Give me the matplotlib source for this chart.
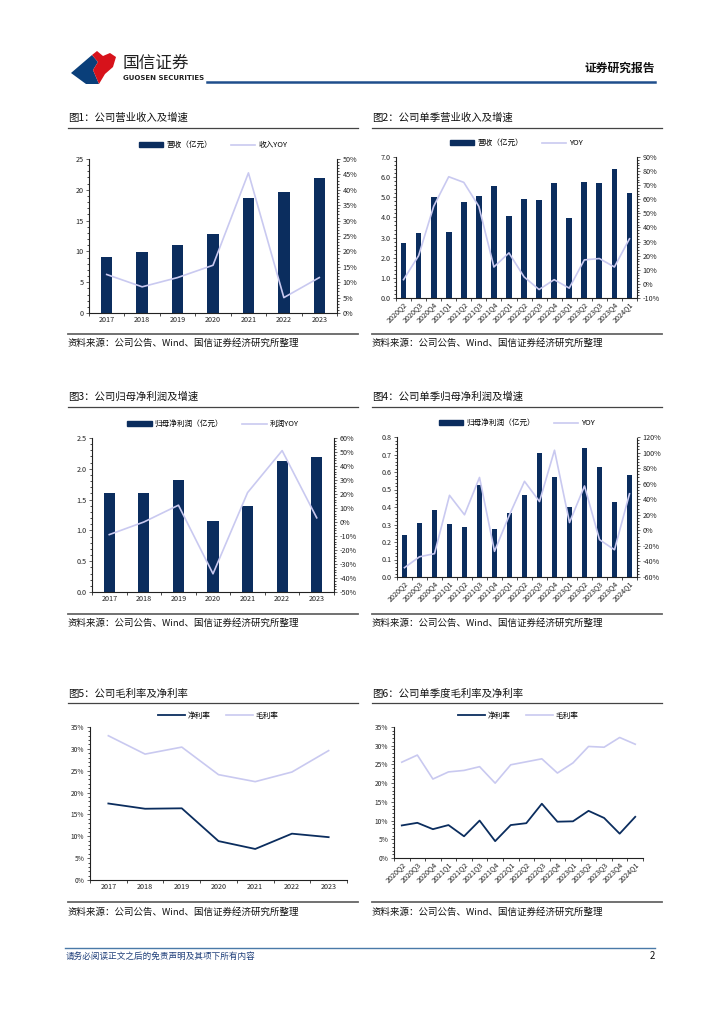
import numpy as np
import matplotlib
matplotlib.use('Agg')
import matplotlib.pyplot as plt
from matplotlib.patches import Patch, Polygon
from matplotlib.lines import Line2D
from matplotlib.ticker import MultipleLocator, FuncFormatter

plt.rcParams['font.family'] = ['Noto Sans CJK SC', 'DejaVu Sans']

W, H = 724, 1024
NAVY = '#0b2d5e'
LAV = '#c9c9f0'

years = ['2017', '2018', '2019', '2020', '2021', '2022', '2023']
quarters = ['2020Q2', '2020Q3', '2020Q4', '2021Q1', '2021Q2', '2021Q3', '2021Q4', '2022Q1',
            '2022Q2', '2022Q3', '2022Q4', '2023Q1', '2023Q2', '2023Q3', '2023Q4', '2024Q1']

rev_year = [9.1, 9.9, 11.0, 12.8, 18.6, 19.6, 21.9]
rev_year_yoy = [12.5, 8.5, 11.5, 15.5, 45.5, 5.0, 11.5]

rev_q = [2.75, 3.25, 5.0, 3.3, 4.75, 5.05, 5.57, 4.07, 4.92, 4.88, 5.73, 3.97, 5.78, 5.73, 6.38, 5.2]
rev_q_yoy = [3, 20, 55, 76, 72, 55, 12, 22, 5, -4, 3, -3, 17, 18, 12, 32]

np_year = [1.6, 1.6, 1.82, 1.15, 1.4, 2.12, 2.19]
np_year_yoy = [-9, 0, 12, -37, 21, 51, 3]

np_q = [0.24, 0.31, 0.385, 0.305, 0.285, 0.525, 0.275, 0.365, 0.47, 0.71, 0.57, 0.40,
        0.735, 0.63, 0.43, 0.585]
np_q_yoy = [-48, -34, -30, 45, 20, 68, -27, 20, 63, 37, 103, 10, 57, -12, -25, 47]

net_margin_year = [17.5, 16.3, 16.4, 8.9, 7.1, 10.6, 9.8]
gross_margin_year = [33.0, 28.8, 30.4, 24.1, 22.5, 24.7, 29.6]

net_margin_q = [8.7, 9.4, 7.7, 8.8, 5.8, 10.0, 4.5, 8.8, 9.3, 14.5, 9.7, 9.8, 12.6, 10.7, 6.5, 11.0]
gross_margin_q = [25.6, 27.5, 21.1, 23.0, 23.4, 24.4, 20.0, 24.9, 25.7, 26.5, 22.7, 25.4,
                  29.8, 29.6, 32.2, 30.4]

source = '资料来源：公司公告、Wind、国信证券经济研究所整理'

fig = plt.figure(figsize=(W / 100, H / 100), dpi=100)
fig.patch.set_facecolor('white')


def fx(x):
    return x / W


def fy(y):
    return 1 - y / H


def px_axes(l, t, r, b):
    return fig.add_axes([fx(l), fy(b), fx(r - l), (b - t) / H])


def hline(x0, x1, y, color, lw):
    fig.add_artist(Line2D([fx(x0), fx(x1)], [fy(y), fy(y)], color=color, lw=lw))


def frame(x0, x1, ytitle, yline1, yline2, ysrc, title):
    fig.text(fx(x0), fy(ytitle), title, fontsize=7.5, va='center', ha='left', color='#111111')
    hline(x0, x1, yline1, '#444444', 0.9)
    hline(x0, x1, yline2, '#666666', 1.3)
    fig.text(fx(x0), fy(ysrc), source, fontsize=6.8, va='center', ha='left', color='#111111')


def style_ax(ax):
    ax.spines['top'].set_visible(False)
    ax.spines['right'].set_visible(False)
    for s in ['left', 'bottom']:
        ax.spines[s].set_color('#222222')
        ax.spines[s].set_linewidth(0.8)
    ax.tick_params(axis='both', labelsize=5.2, length=2, width=0.5, direction='out',
                   colors='#222222', pad=2)
    ax.tick_params(axis='x', length=0)


def cat_minor(ax, n):
    ax.set_xticks(np.arange(n + 1) - 0.5, minor=True)
    ax.tick_params(axis='x', which='minor', length=2, width=0.5)


def bar_line(ax, cats, bars, yoy, bar_label, line_label, ylim, ystep, fmt, rlim, rstep, width, rot):
    x = np.arange(len(cats))
    ax.bar(x, bars, width=width, color=NAVY, label=bar_label, zorder=2)
    ax.set_xlim(-0.5, len(cats) - 0.5)
    ax.set_ylim(*ylim)
    ax.yaxis.set_major_locator(MultipleLocator(ystep))
    ax.yaxis.set_minor_locator(MultipleLocator(ystep / 5))
    ax.yaxis.set_major_formatter(FuncFormatter(lambda v, p: fmt.format(v)))
    ax.set_xticks(x)
    if rot:
        ax.set_xticklabels(cats, rotation=45, ha='right', rotation_mode='anchor')
    else:
        ax.set_xticklabels(cats)
    style_ax(ax)
    cat_minor(ax, len(cats))
    ax.tick_params(axis='y', which='minor', length=1.5, width=0.5)
    ax2 = ax.twinx()
    ax2.plot(x, yoy, color=LAV, lw=1.2, label=line_label, zorder=3)
    ax2.set_ylim(*rlim)
    ax2.yaxis.set_major_locator(MultipleLocator(rstep))
    ax2.yaxis.set_minor_locator(MultipleLocator(rstep / 5))
    ax2.yaxis.set_major_formatter(FuncFormatter(lambda v, p: '{:.0f}%'.format(v)))
    for s in ['top', 'left', 'bottom']:
        ax2.spines[s].set_visible(False)
    ax2.spines['right'].set_color('#222222')
    ax2.spines['right'].set_linewidth(0.8)
    ax2.spines['right'].set_linestyle((0, (1, 1)))
    ax2.tick_params(axis='y', labelsize=5.2, length=2, width=0.5, colors='#222222', pad=2)
    ax2.tick_params(axis='y', which='minor', length=1.5, width=0.5)
    handles = [Patch(color=NAVY, label=bar_label), Line2D([], [], color=LAV, lw=1.2, label=line_label)]
    ax.legend(handles=handles, loc='lower center', bbox_to_anchor=(0.5, 1.02), ncol=2,
              frameon=False, fontsize=5.5, handlelength=3.2, handleheight=0.5,
              columnspacing=2.5, handletextpad=0.4)
    return ax2


def two_lines(ax, cats, net, gross, rot):
    x = np.arange(len(cats))
    ax.plot(x, net, color=NAVY, lw=1.3, label='净利率')
    ax.plot(x, gross, color=LAV, lw=1.2, label='毛利率')
    ax.set_xlim(-0.5, len(cats) - 0.5)
    ax.set_ylim(0, 35)
    ax.yaxis.set_major_locator(MultipleLocator(5))
    ax.yaxis.set_minor_locator(MultipleLocator(1))
    ax.yaxis.set_major_formatter(FuncFormatter(lambda v, p: '{:.0f}%'.format(v)))
    ax.set_xticks(x)
    if rot:
        ax.set_xticklabels(cats, rotation=45, ha='right', rotation_mode='anchor')
    else:
        ax.set_xticklabels(cats)
    style_ax(ax)
    cat_minor(ax, len(cats))
    ax.tick_params(axis='y', labelsize=4.8)
    ax.tick_params(axis='y', which='minor', length=1.5, width=0.5)
    ax.legend(loc='lower center', bbox_to_anchor=(0.5, 1.0), ncol=2, frameon=False,
              fontsize=5.5, handlelength=3.5, columnspacing=2.0, handletextpad=0.4)


# header logo
blue = [(71, 73), (92, 55), (98, 62), (93, 70), (99, 84), (86, 84)]
red = [(92, 55), (97, 51), (103, 56), (110, 53), (116, 57), (113, 67), (105, 74), (99, 84),
       (93, 70), (98, 62)]
fig.add_artist(Polygon([(fx(a), fy(b)) for a, b in blue], closed=True, color='#0a3f7a', lw=0))
fig.add_artist(Polygon([(fx(a), fy(b)) for a, b in red], closed=True, color='#d7121b', lw=0))
fig.text(fx(123), fy(63), '国信证券', fontsize=12, va='center', ha='left', color='#222222')
fig.text(fx(123), fy(77.5), 'GUOSEN SECURITIES', fontsize=5.0, va='center', ha='left',
         color='#222222', family='DejaVu Sans', fontweight='bold')
fig.text(fx(655), fy(68), '证券研究报告', fontsize=8.5, va='center', ha='right',
         fontweight='bold', color='#111111')
hline(207, 655, 82, '#1f4e8c', 1.8)

# footer
hline(65, 655, 948, '#4a7aa8', 1.0)
fig.text(fx(66), fy(956), '请务必阅读正文之后的免责声明及其项下所有内容', fontsize=6.2,
         va='center', ha='left', color='#1f3f7a', style='italic')
fig.text(fx(655), fy(956), '2', fontsize=7, va='center', ha='right', color='#111111')

# frames
frame(68, 358, 118, 128, 334, 343, '图1：公司营业收入及增速')
frame(372, 662, 118, 128, 334, 343, '图2：公司单季营业收入及增速')
frame(68, 358, 397, 407, 614, 623, '图3：公司归母净利润及增速')
frame(372, 662, 397, 407, 614, 623, '图4：公司单季归母净利润及增速')
frame(68, 358, 694, 703, 902, 912, '图5：公司毛利率及净利率')
frame(372, 662, 694, 703, 902, 912, '图6：公司单季度毛利率及净利率')

ax1 = px_axes(89, 159, 337, 313)
bar_line(ax1, years, rev_year, rev_year_yoy, '营收（亿元）', '收入YOY',
         (0, 25), 5, '{:.0f}', (0, 50), 5, 0.32, False)

ax2 = px_axes(396, 157, 637, 298)
bar_line(ax2, quarters, rev_q, rev_q_yoy, '营收（亿元）', 'YOY',
         (0, 7), 1, '{:.1f}', (-10, 90), 10, 0.38, True)

ax3 = px_axes(92, 438, 334, 592)
bar_line(ax3, years, np_year, np_year_yoy, '归母净利润（亿元）', '利润YOY',
         (0, 2.5), 0.5, '{:.1f}', (-50, 60), 10, 0.32, False)

ax4 = px_axes(397, 437, 637, 577)
bar_line(ax4, quarters, np_q, np_q_yoy, '归母净利润（亿元）', 'YOY',
         (0, 0.8), 0.1, '{:.1f}', (-60, 120), 20, 0.38, True)

ax5 = px_axes(90, 727, 347, 880)
two_lines(ax5, years, net_margin_year, gross_margin_year, False)

ax6 = px_axes(394, 727, 643, 858)
two_lines(ax6, quarters, net_margin_q, gross_margin_q, True)

fig.savefig('out.png', dpi=100, facecolor='white')
